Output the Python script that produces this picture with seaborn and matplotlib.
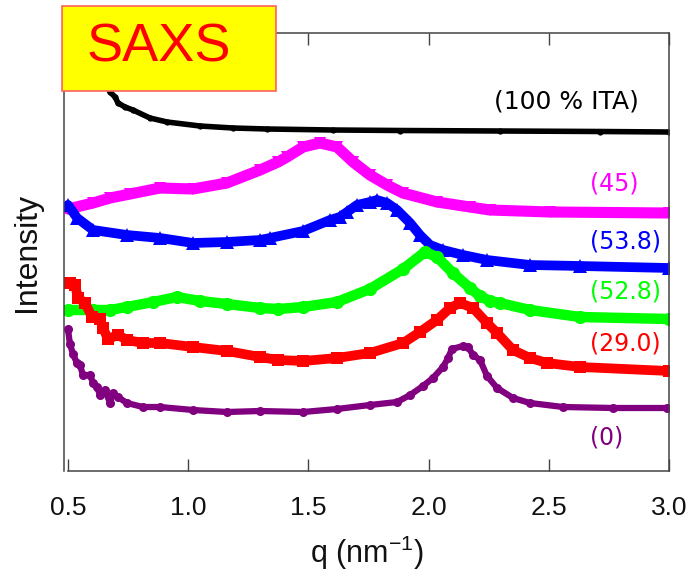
import seaborn as sns
import pandas as pd
import numpy as np
import matplotlib
matplotlib.use("Agg")
import matplotlib.pyplot as plt
from matplotlib.patches import Rectangle

# values (q in nm^-1, intensity in arbitrary offset units)
q_ita = [0.60, 0.666, 0.675, 0.696, 0.708, 0.737, 0.770, 0.841, 0.912, 1.049, 1.186, 1.328, 1.602, 1.881, 2.297, 2.713, 3.0]
i_ita = [420, 383, 379, 374, 368, 364, 361, 353, 349, 345, 343, 342, 341, 340.5, 340, 339.5, 339]

q_45 = [0.5, 0.604, 0.675, 0.758, 0.883, 1.020, 1.161, 1.299, 1.374, 1.411, 1.478, 1.548, 1.619, 1.686,
        1.756, 1.827, 1.893, 2.035, 2.172, 2.255, 2.505, 3.0]
i_45 = [262, 268, 273, 277, 283, 282, 288, 301, 309, 314, 324, 328, 324, 309,
        296, 286, 278, 269, 264, 261, 259, 258]

q_538 = [0.5, 0.538, 0.604, 0.745, 0.883, 1.020, 1.161, 1.299, 1.340, 1.478, 1.590, 1.631, 1.661, 1.702,
         1.756, 1.785, 1.827, 1.869, 1.923, 1.964, 2.006, 2.060, 2.143, 2.243, 2.422, 2.630, 3.0]
i_538 = [266, 253, 241, 236, 233, 228, 229, 231, 233, 240, 251, 254, 259, 266,
         269, 271, 268, 261, 248, 236, 226, 221, 216, 211, 206, 205, 203]

q_528 = [0.5, 0.604, 0.675, 0.745, 0.854, 0.953, 1.049, 1.161, 1.299, 1.374, 1.478, 1.619, 1.756, 1.894,
         1.985, 2.035, 2.101, 2.172, 2.214, 2.255, 2.297, 2.422, 2.630, 3.0]
i_528 = [161, 161, 161, 164, 169, 174, 170, 167, 163, 162, 164, 169, 182, 202,
         219, 214, 198, 183, 175, 170, 168, 161, 154, 152]

q_290 = [0.508, 0.529, 0.542, 0.571, 0.600, 0.633, 0.646, 0.666, 0.708, 0.745, 0.812, 0.883, 1.020, 1.161,
         1.299, 1.374, 1.478, 1.619, 1.756, 1.894, 1.964, 2.035, 2.089, 2.131, 2.185, 2.243, 2.285, 2.351,
         2.422, 2.493, 2.630, 3.0]
i_290 = [188, 186, 173, 168, 154, 152, 143, 132, 136, 131, 128, 128, 124, 120,
         114, 111, 110, 113, 118, 128, 139, 151, 163, 168, 163, 148, 138, 121,
         113, 108, 104, 100]

q_0 = [0.5, 0.508, 0.521, 0.537, 0.550, 0.562, 0.592, 0.604, 0.621, 0.633, 0.654, 0.675, 0.687, 0.708,
       0.745, 0.812, 0.883, 1.020, 1.161, 1.299, 1.478, 1.619, 1.756, 1.869, 1.923, 1.977, 2.018, 2.060,
       2.081, 2.097, 2.143, 2.164, 2.185, 2.214, 2.243, 2.285, 2.351, 2.422, 2.559, 2.767, 2.992]
i_0 = [142, 127, 117, 108, 106, 96, 96, 88, 84, 76, 81, 68, 78, 74,
       68, 64, 64, 61, 59, 60, 59, 62, 66, 69, 76, 85, 93, 104,
       113, 122, 125, 124, 116, 111, 95, 83, 73, 68, 64, 63, 63]

labels = ["(100 % ITA)", "(45)", "(53.8)", "(52.8)", "(29.0)", "(0)"]
label_q = [2.27, 2.67, 2.67, 2.67, 2.67, 2.67]
label_i = [369, 288, 229, 179, 128, 33]
label_size = [18, 17, 17, 17, 17, 17]

series = [
    (q_ita, i_ita, "black", "o", 4.5, 4.0),
    (q_45, i_45, "#ff00ff", "v", 9, 8.0),
    (q_538, i_538, "#0000ff", "^", 10, 7.0),
    (q_528, i_528, "#00ff00", "o", 9.5, 7.5),
    (q_290, i_290, "#ff0000", "s", 8.5, 7.0),
    (q_0, i_0, "#800080", "o", 6.5, 4.5),
]

sns.set_theme(style="white")
plt.rcParams["font.family"] = ["Liberation Sans", "DejaVu Sans"]
plt.rcParams["mathtext.default"] = "regular"

fig = plt.figure(figsize=(6.92, 5.77), dpi=100)
ax = fig.add_axes([64 / 692, 106 / 577, 605 / 692, 438 / 577])

for q, inten, col, mk, ms, lw in series:
    df = pd.DataFrame({"q": q, "I": inten})
    sns.lineplot(data=df, x="q", y="I", color=col, marker=mk, markersize=ms,
                 markeredgewidth=0, linewidth=lw, ax=ax)

for lab, xq, yi, fs, (_, _, col, _, _, _) in zip(labels, label_q, label_i, label_size, series):
    ax.text(xq, yi, lab, color=col, fontsize=fs, family="DejaVu Sans",
            ha="left", va="center")

ax.set_xlim(0.4834, 3.0)
ax.set_ylim(0, 438)
ax.set_xticks([0.5, 1.0, 1.5, 2.0, 2.5, 3.0])
ax.set_xticklabels(["0.5", "1.0", "1.5", "2.0", "2.5", "3.0"])
ax.set_yticks([])
ax.tick_params(axis="x", direction="in", top=True, bottom=True, length=8.6, width=1,
               color="#444444", pad=18, labelsize=19, labelcolor="#111111")
for s in ax.spines.values():
    s.set_color("#444444")
    s.set_linewidth(1.1)
ax.spines["bottom"].set_bounds(0.5, 3.0)

ax.set_xlabel("q (nm$^{\\mathregular{-1}}$)", fontsize=22, labelpad=10, color="#111111")
ax.set_ylabel("Intensity", fontsize=23, labelpad=16, color="#111111")

# yellow SAXS tag on top of the plot corner
fig.patches.append(Rectangle((62 / 692, 1 - 91 / 577), 214 / 692, 85 / 577,
                             transform=fig.transFigure, facecolor="#ffff00",
                             edgecolor="#ff6060", linewidth=1.2, zorder=2))
fig.text(159 / 692, 1 - 47 / 577, "SAXS", color="#ff0000", fontsize=39,
         ha="center", va="center", zorder=3)

fig.savefig("out.png", dpi=100)
